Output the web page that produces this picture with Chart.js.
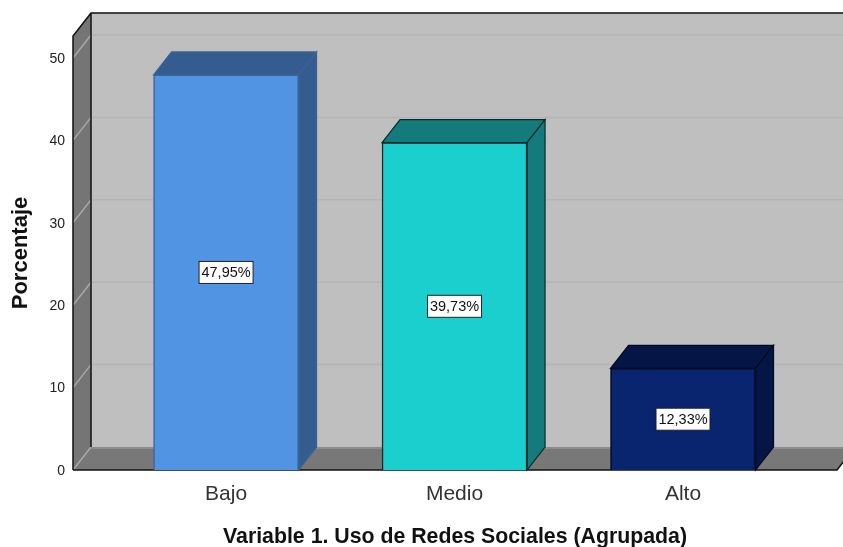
<!DOCTYPE html>
<html>
<head>
<meta charset="utf-8">
<title>Uso de Redes Sociales</title>
<script src="https://cdn.jsdelivr.net/npm/chart.js@4/dist/chart.umd.min.js"></script>
<style>
html,body{margin:0;padding:0;background:#fff;}
#wrap{position:relative;width:843px;height:547px;}
</style>
</head>
<body>
<div id="wrap"><canvas id="grafico"></canvas></div>
<script>
var categorias = ['Bajo', 'Medio', 'Alto'];
var porcentajes = [47.95, 39.73, 12.33];
var posiciones = [0, 1, 2];
var marcasY = [0, 10, 20, 30, 40, 50];

var colorFrente = ['#5294E4', '#1CCFCF', '#0A2570'];
var colorLado = ['#345C8F', '#137B7B', '#051545'];
var colorBorde = ['#3A6496', '#0C2A2A', '#000820'];

// profundidad del efecto 3D
var dx = 18;
var dy = 23;

function poligono(ctx, pts, relleno, borde) {
    ctx.beginPath();
    ctx.moveTo(pts[0][0], pts[0][1]);
    for (var i = 1; i < pts.length; i++) {
        ctx.lineTo(pts[i][0], pts[i][1]);
    }
    ctx.closePath();
    ctx.fillStyle = relleno;
    ctx.fill();
    if (borde) {
        ctx.strokeStyle = borde;
        ctx.lineWidth = 1.2;
        ctx.stroke();
    }
}

var caja3d = {
    id: 'caja3d',
    beforeDatasetsDraw: function(chart) {
        var ctx = chart.ctx;
        var a = chart.chartArea;
        var yS = chart.scales.y;
        ctx.save();

        // pared del fondo, pared izquierda, suelo
        poligono(ctx, [[a.left + dx, a.top - dy], [a.right + dx, a.top - dy], [a.right + dx, a.bottom - dy], [a.left + dx, a.bottom - dy]], '#BFBFBF');
        poligono(ctx, [[a.left, a.top], [a.left + dx, a.top - dy], [a.left + dx, a.bottom - dy], [a.left, a.bottom]], '#757575');
        poligono(ctx, [[a.left, a.bottom], [a.left + dx, a.bottom - dy], [a.right + dx, a.bottom - dy], [a.right, a.bottom]], '#787878');

        // lineas de cuadricula
        ctx.lineWidth = 1.5;
        for (var i = 0; i < marcasY.length; i++) {
            var y = yS.getPixelForValue(marcasY[i]);
            if (marcasY[i] > 0) {
                ctx.strokeStyle = '#B4B4B4';
                ctx.beginPath();
                ctx.moveTo(a.left + dx, y - dy);
                ctx.lineTo(a.right + dx, y - dy);
                ctx.stroke();
            }
            ctx.strokeStyle = '#A8A8A8';
            ctx.beginPath();
            ctx.moveTo(a.left, y);
            ctx.lineTo(a.left + dx, y - dy);
            ctx.stroke();
        }

        // banda clara al fondo del suelo
        ctx.strokeStyle = '#8C8C8C';
        ctx.lineWidth = 2;
        ctx.beginPath();
        ctx.moveTo(a.left + dx, a.bottom - dy + 1);
        ctx.lineTo(a.right + dx, a.bottom - dy + 1);
        ctx.stroke();

        // aristas
        ctx.strokeStyle = '#111';
        ctx.lineWidth = 1.5;
        ctx.beginPath();
        ctx.moveTo(a.left, a.bottom);
        ctx.lineTo(a.left, a.top);
        ctx.lineTo(a.left + dx, a.top - dy);
        ctx.lineTo(a.right + dx, a.top - dy);
        ctx.moveTo(a.left + dx, a.top - dy);
        ctx.lineTo(a.left + dx, a.bottom - dy);
        ctx.moveTo(a.left, a.bottom);
        ctx.lineTo(a.right, a.bottom);
        ctx.lineTo(a.right + dx, a.bottom - dy);
        ctx.stroke();

        // caras superior y lateral de cada barra
        var barras = chart.getDatasetMeta(0).data;
        for (var j = 0; j < barras.length; j++) {
            var b = barras[j];
            var x0 = b.x - b.width / 2;
            var x1 = b.x + b.width / 2;
            poligono(ctx, [[x0, b.y], [x0 + dx, b.y - dy], [x1 + dx, b.y - dy], [x1, b.y]], colorLado[j], colorBorde[j]);
            poligono(ctx, [[x1, b.y], [x1 + dx, b.y - dy], [x1 + dx, b.base - dy], [x1, b.base]], colorLado[j], colorBorde[j]);
        }
        ctx.restore();
    },
    afterDatasetsDraw: function(chart) {
        // etiquetas de porcentaje
        var ctx = chart.ctx;
        var barras = chart.getDatasetMeta(0).data;
        ctx.save();
        ctx.font = '14.5px "Liberation Sans", Arial, sans-serif';
        ctx.textAlign = 'center';
        ctx.textBaseline = 'middle';
        for (var i = 0; i < barras.length; i++) {
            var b = barras[i];
            var cy = (b.y + b.base) / 2;
            var txt = porcentajes[i].toFixed(2).replace('.', ',') + '%';
            ctx.fillStyle = '#fff';
            ctx.fillRect(b.x - 27, cy - 11, 54, 22);
            ctx.strokeStyle = '#222';
            ctx.lineWidth = 1;
            ctx.strokeRect(b.x - 27, cy - 11, 54, 22);
            ctx.fillStyle = '#111';
            ctx.fillText(txt, b.x, cy + 1);
        }
        ctx.restore();
    }
};

var puntos = [];
for (var i = 0; i < categorias.length; i++) {
    puntos.push({x: posiciones[i], y: porcentajes[i]});
}

var ctx = document.getElementById('grafico');
var chart = new Chart(ctx, {
    type: 'bar',
    plugins: [caja3d],
    data: {
        datasets: [{
            label: 'Porcentaje',
            data: puntos,
            backgroundColor: colorFrente,
            borderColor: colorBorde,
            borderWidth: 1.5,
            barThickness: 145
        }]
    },
    options: {
        responsive: true,
        maintainAspectRatio: false,
        animation: false,
        layout: {padding: {top: 36, right: 6, left: 0, bottom: 0}},
        plugins: {legend: {display: false}, tooltip: {enabled: false}},
        scales: {
            x: {
                type: 'linear',
                offset: false,
                min: -0.67,
                max: 2.674,
                grid: {display: false},
                border: {display: false},
                afterBuildTicks: function(scale) {
                    scale.ticks = posiciones.map(function(p) { return {value: p}; });
                },
                afterFit: function(scale) { scale.height = 77; },
                ticks: {
                    autoSkip: false,
                    maxRotation: 0,
                    padding: 4,
                    color: '#333',
                    font: {family: '"Liberation Sans", Arial, sans-serif', size: 21},
                    callback: function(v) { return categorias[v]; }
                },
                title: {
                    display: true,
                    text: 'Variable 1. Uso de Redes Sociales (Agrupada)',
                    color: '#111',
                    font: {family: '"Liberation Sans", Arial, sans-serif', size: 21.3, weight: 'bold'},
                    padding: {top: 18, bottom: -3}
                }
            },
            y: {
                min: 0,
                max: 52.67,
                grid: {display: false},
                border: {display: false},
                afterFit: function(scale) { scale.width = 73; },
                ticks: {
                    stepSize: 10,
                    includeBounds: false,
                    padding: 0,
                    labelOffset: 1,
                    color: '#222',
                    font: {family: '"Liberation Sans", Arial, sans-serif', size: 14}
                },
                title: {
                    display: true,
                    text: 'Porcentaje',
                    color: '#111',
                    font: {family: '"Liberation Sans", Arial, sans-serif', size: 22, weight: 'bold'},
                    padding: {top: 8, bottom: 0}
                }
            }
        }
    }
});
</script>
</body>
</html>
